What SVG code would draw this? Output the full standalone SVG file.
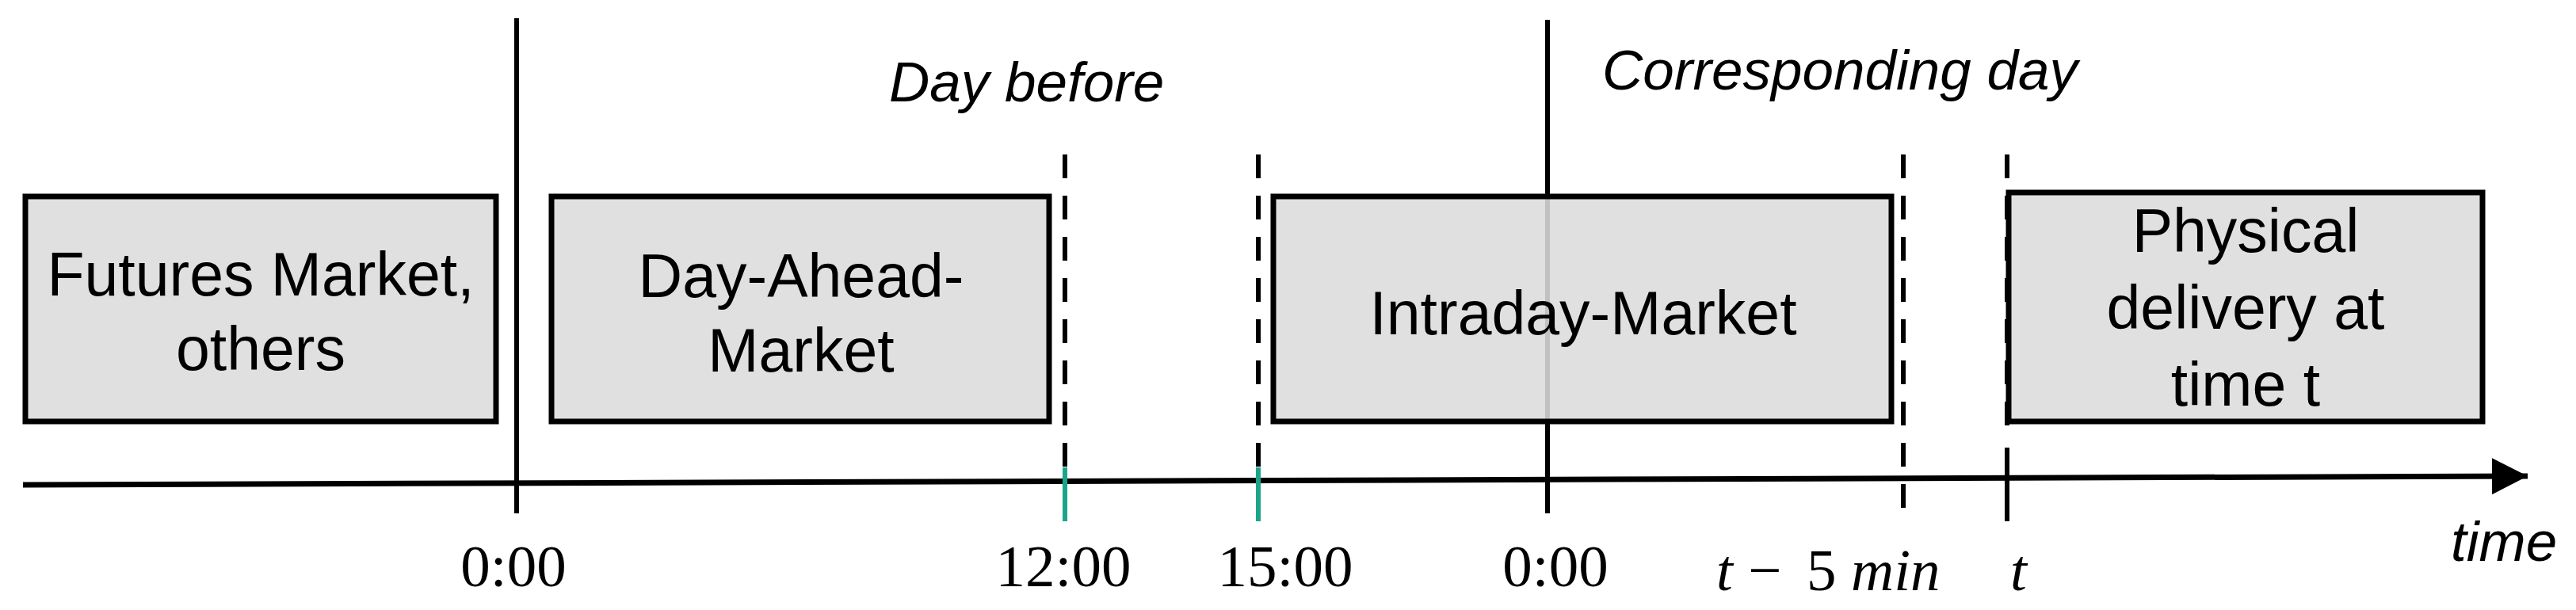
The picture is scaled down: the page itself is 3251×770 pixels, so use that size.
<svg xmlns="http://www.w3.org/2000/svg" width="3251" height="770" viewBox="0 0 3251 770">
<style>
.box{fill:#dcdcdc;fill-opacity:0.88;stroke:#000;stroke-width:7}
.lbl{font-family:"Liberation Sans",Arial,sans-serif;font-size:77px;fill:#000;text-anchor:middle}
.hdr{font-family:"Liberation Sans",Arial,sans-serif;font-size:71px;font-style:italic;fill:#000}
.tm{font-family:"Liberation Serif","Times New Roman",serif;font-size:75px;fill:#000;text-anchor:middle}
.solid{stroke:#000;stroke-width:6;fill:none}
.dash{stroke:#000;stroke-width:6;stroke-dasharray:30 22;fill:none}
.green{stroke:#1aa58a;stroke-width:6;fill:none}
</style>
<defs>
<marker id="arrow" markerUnits="userSpaceOnUse" markerWidth="46" markerHeight="46" refX="45" refY="23" orient="auto">
<path d="M0,0 L45,23 L0,46 Z" fill="#000"/>
</marker>
</defs>
<rect width="3251" height="770" fill="#fff"/>
<g id="connectors">
<line class="solid" x1="29" y1="612" x2="3190" y2="601" style="stroke-width:7" marker-end="url(#arrow)"/>
<line class="solid" x1="652" y1="23" x2="652" y2="648"/>
<line class="solid" x1="1953" y1="25" x2="1953" y2="648"/>
<line class="dash" x1="1344" y1="195" x2="1344" y2="590"/>
<line class="green" x1="1344" y1="590" x2="1344" y2="658"/>
<line class="dash" x1="1588" y1="195" x2="1588" y2="590"/>
<line class="green" x1="1588" y1="590" x2="1588" y2="658"/>
<line class="dash" x1="2402" y1="195" x2="2402" y2="647"/>
<line class="dash" x1="2533" y1="195" x2="2533" y2="542"/>
<line class="solid" x1="2533" y1="565" x2="2533" y2="658"/>
</g>
<g id="node-futures">
<rect class="box" x="32" y="248" width="594" height="284"/>
<text class="lbl" x="329" y="373">Futures Market,</text>
<text class="lbl" x="329" y="467">others</text>
</g>
<g id="node-dayahead">
<rect class="box" x="696" y="248" width="628" height="284"/>
<text class="lbl" x="1011" y="375">Day-Ahead-</text>
<text class="lbl" x="1011" y="469">Market</text>
</g>
<g id="node-intraday">
<rect class="box" x="1607" y="248" width="780" height="284"/>
<text class="lbl" x="1998" y="422">Intraday-Market</text>
</g>
<g id="node-physical">
<rect class="box" x="2535" y="243" width="598" height="289"/>
<text class="lbl" x="2834" y="318">Physical</text>
<text class="lbl" x="2834" y="415">delivery at</text>
<text class="lbl" x="2834" y="512">time t</text>
</g>
<g id="headers">
<text class="hdr" x="1122" y="128">Day before</text>
<text class="hdr" x="2022" y="113">Corresponding day</text>
<text class="hdr" x="3093" y="708">time</text>
</g>
<g id="time-labels">
<text class="tm" x="648" y="740">0:00</text>
<text class="tm" x="1342" y="740">12:00</text>
<text class="tm" x="1622" y="740">15:00</text>
<text class="tm" x="1963" y="740">0:00</text>
<text class="tm" x="2166" y="745" style="text-anchor:start"><tspan font-style="italic">t</tspan><tspan x="2206">−</tspan><tspan x="2280">5</tspan><tspan x="2336" font-style="italic">min</tspan></text>
<text class="tm" x="2537" y="745" style="text-anchor:start;font-style:italic">t</text>
</g>
</svg>
